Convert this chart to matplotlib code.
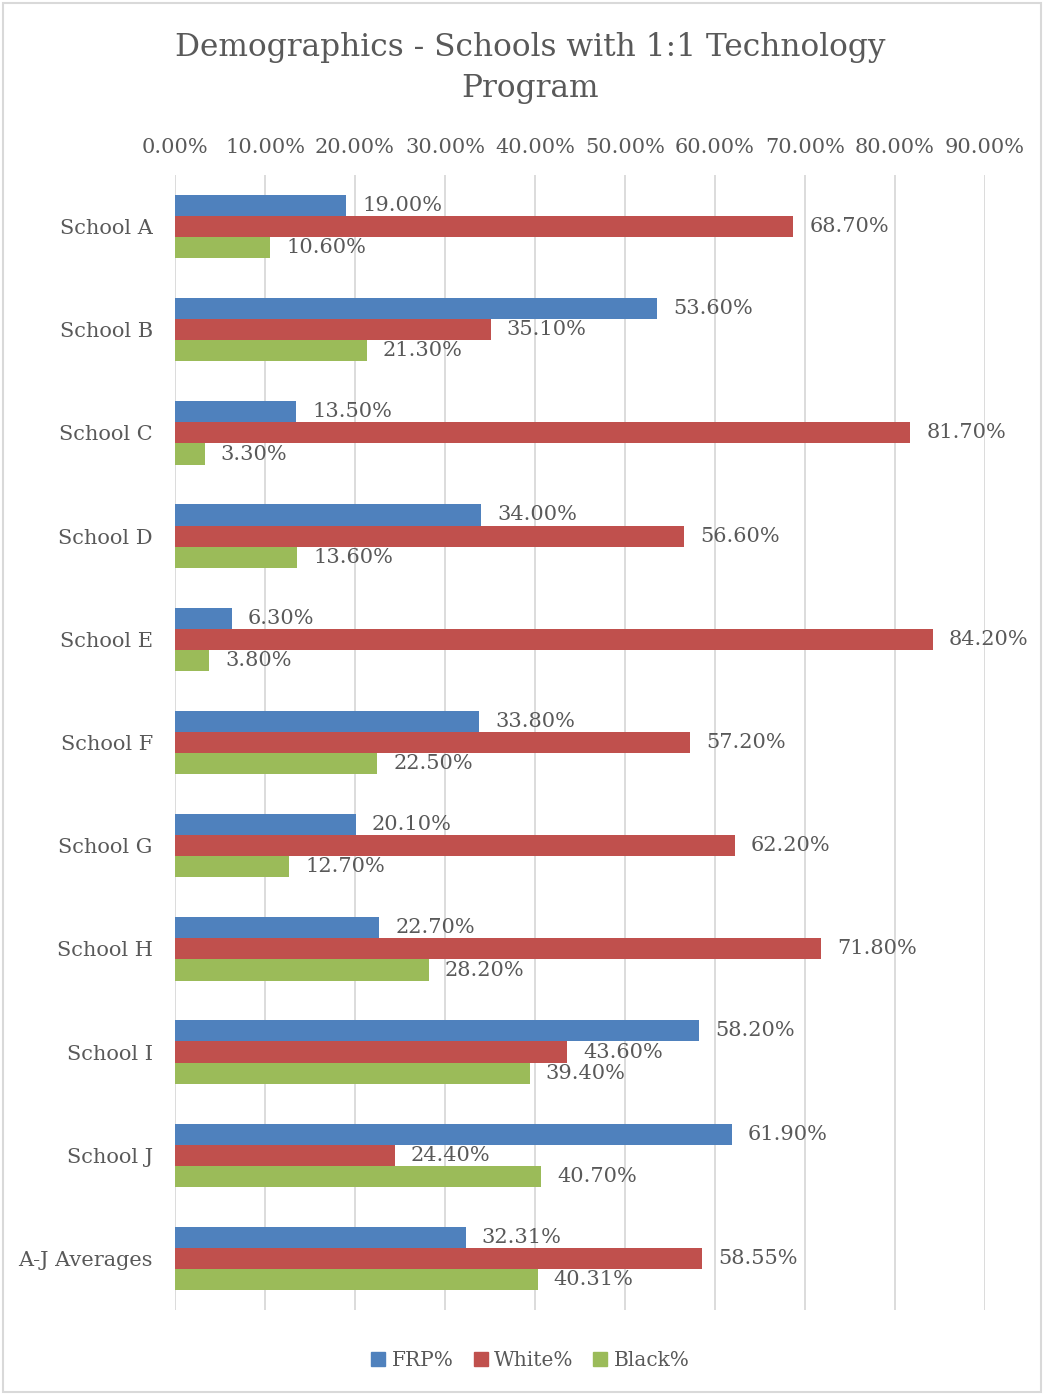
import matplotlib.pyplot as plt
import numpy as np
from matplotlib.patches import Rectangle, Patch

plt.rcParams['font.family'] = ['DejaVu Serif']

schools = ['School A', 'School B', 'School C', 'School D', 'School E', 'School F',
           'School G', 'School H', 'School I', 'School J', 'A-J Averages']
frp = [19.00, 53.60, 13.50, 34.00, 6.30, 33.80, 20.10, 22.70, 58.20, 61.90, 32.31]
white = [68.70, 35.10, 81.70, 56.60, 84.20, 57.20, 62.20, 71.80, 43.60, 24.40, 58.55]
black = [10.60, 21.30, 3.30, 13.60, 3.80, 22.50, 12.70, 28.20, 39.40, 40.70, 40.31]

series = [('FRP%', frp, '#4F81BD'), ('White%', white, '#C0504D'), ('Black%', black, '#9BBB59')]
txt = '#595959'

fig = plt.figure(figsize=(10.44, 13.95), dpi=100)
ax = fig.add_axes([0.1676, 0.0609, 0.7759, 0.8137])

y = np.arange(len(schools))
h = 0.205
for k, (name, vals, col) in enumerate(series):
    pos = y + (k - 1) * h
    ax.barh(pos, vals, height=h, color=col, zorder=2, label=name)
    for p, v in zip(pos, vals):
        ax.annotate(f'{v:.2f}%', (v, p), xytext=(11.5, 0), textcoords='offset points',
                    ha='left', va='center', fontsize=15, color=txt)

ax.set_xlim(0, 90)
ax.set_ylim(len(schools) - 0.5, -0.5)
ax.set_xticks(np.arange(0, 91, 10))
ax.set_xticklabels([f'{t:.2f}%' for t in range(0, 91, 10)])
ax.xaxis.tick_top()
ax.set_yticks(y)
ax.set_yticklabels(schools)
ax.tick_params(axis='both', length=0, labelsize=15, colors=txt)
ax.tick_params(axis='x', pad=13)
ax.tick_params(axis='y', pad=16)
ax.grid(axis='x', color='#D9D9D9', lw=1.3, zorder=0)
for s in ax.spines.values():
    s.set_visible(False)

fig.text(0.508, 0.9513, 'Demographics - Schools with 1:1 Technology\nProgram',
         ha='center', va='center', fontsize=22.5, color=txt, linespacing=1.45)

handles = [Patch(color=c, label=n) for n, _, c in series]
fig.legend(handles=handles, loc='center', bbox_to_anchor=(0.508, 0.0245), ncol=3,
           frameon=False, fontsize=14.5, labelcolor=txt, handlelength=0.7,
           handleheight=0.7, handletextpad=0.3, columnspacing=1.0)

fig.patches.append(Rectangle((0.003, 0.002), 0.994, 0.996, transform=fig.transFigure,
                             fill=False, ec='#D9D9D9', lw=1.5))

fig.savefig('out.png', dpi=100)
